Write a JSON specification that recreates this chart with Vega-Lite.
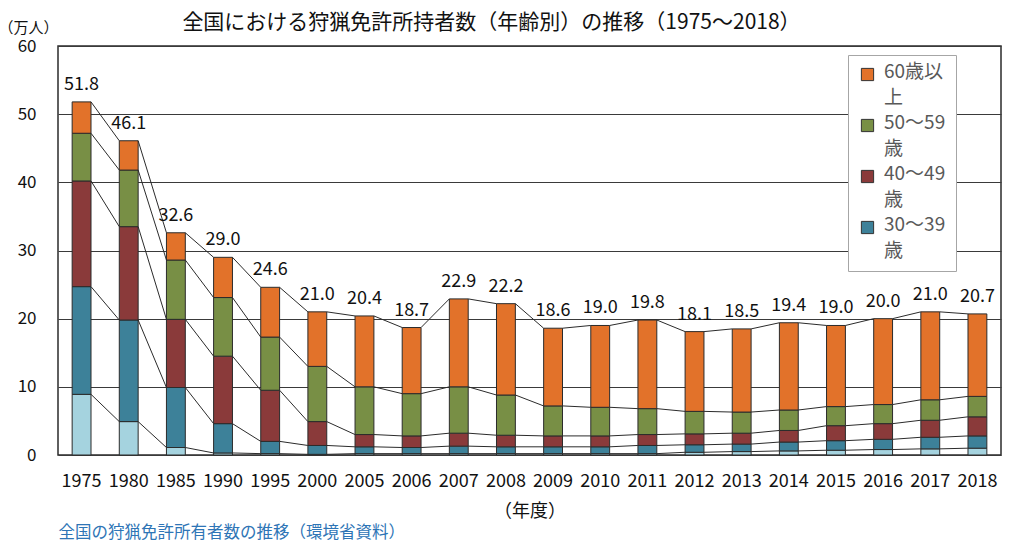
{
  "$schema": "https://vega.github.io/schema/vega-lite/v6.json",
  "autosize": {"type": "none"},
  "padding": {"left": 58, "top": 46, "right": 23, "bottom": 101},
  "width": 943,
  "height": 409,
  "background": "white",
  "title": {
    "text": "全国における狩猟免許所持者数（年齢別）の推移（1975〜2018）",
    "fontSize": 21,
    "fontWeight": "normal",
    "color": "#111111",
    "anchor": "middle",
    "frame": "group",
    "dx": -38,
    "offset": -13
  },
  "datasets": {
    "hunters": [
      {"year": "1975", "age": "20〜29歳", "value": 8.9},
      {"year": "1975", "age": "30〜39歳", "value": 15.8},
      {"year": "1975", "age": "40〜49歳", "value": 15.5},
      {"year": "1975", "age": "50〜59歳", "value": 7.0},
      {"year": "1975", "age": "60歳以上", "value": 4.6},
      {"year": "1980", "age": "20〜29歳", "value": 4.9},
      {"year": "1980", "age": "30〜39歳", "value": 14.9},
      {"year": "1980", "age": "40〜49歳", "value": 13.7},
      {"year": "1980", "age": "50〜59歳", "value": 8.3},
      {"year": "1980", "age": "60歳以上", "value": 4.3},
      {"year": "1985", "age": "20〜29歳", "value": 1.1},
      {"year": "1985", "age": "30〜39歳", "value": 8.8},
      {"year": "1985", "age": "40〜49歳", "value": 10.0},
      {"year": "1985", "age": "50〜59歳", "value": 8.7},
      {"year": "1985", "age": "60歳以上", "value": 4.0},
      {"year": "1990", "age": "20〜29歳", "value": 0.3},
      {"year": "1990", "age": "30〜39歳", "value": 4.3},
      {"year": "1990", "age": "40〜49歳", "value": 9.9},
      {"year": "1990", "age": "50〜59歳", "value": 8.6},
      {"year": "1990", "age": "60歳以上", "value": 5.9},
      {"year": "1995", "age": "20〜29歳", "value": 0.2},
      {"year": "1995", "age": "30〜39歳", "value": 1.8},
      {"year": "1995", "age": "40〜49歳", "value": 7.5},
      {"year": "1995", "age": "50〜59歳", "value": 7.8},
      {"year": "1995", "age": "60歳以上", "value": 7.3},
      {"year": "2000", "age": "20〜29歳", "value": 0.1},
      {"year": "2000", "age": "30〜39歳", "value": 1.3},
      {"year": "2000", "age": "40〜49歳", "value": 3.5},
      {"year": "2000", "age": "50〜59歳", "value": 8.1},
      {"year": "2000", "age": "60歳以上", "value": 8.0},
      {"year": "2005", "age": "20〜29歳", "value": 0.2},
      {"year": "2005", "age": "30〜39歳", "value": 1.0},
      {"year": "2005", "age": "40〜49歳", "value": 1.8},
      {"year": "2005", "age": "50〜59歳", "value": 7.0},
      {"year": "2005", "age": "60歳以上", "value": 10.4},
      {"year": "2006", "age": "20〜29歳", "value": 0.2},
      {"year": "2006", "age": "30〜39歳", "value": 0.9},
      {"year": "2006", "age": "40〜49歳", "value": 1.7},
      {"year": "2006", "age": "50〜59歳", "value": 6.2},
      {"year": "2006", "age": "60歳以上", "value": 9.7},
      {"year": "2007", "age": "20〜29歳", "value": 0.2},
      {"year": "2007", "age": "30〜39歳", "value": 1.1},
      {"year": "2007", "age": "40〜49歳", "value": 1.9},
      {"year": "2007", "age": "50〜59歳", "value": 6.8},
      {"year": "2007", "age": "60歳以上", "value": 12.9},
      {"year": "2008", "age": "20〜29歳", "value": 0.2},
      {"year": "2008", "age": "30〜39歳", "value": 1.0},
      {"year": "2008", "age": "40〜49歳", "value": 1.7},
      {"year": "2008", "age": "50〜59歳", "value": 5.9},
      {"year": "2008", "age": "60歳以上", "value": 13.4},
      {"year": "2009", "age": "20〜29歳", "value": 0.2},
      {"year": "2009", "age": "30〜39歳", "value": 1.0},
      {"year": "2009", "age": "40〜49歳", "value": 1.6},
      {"year": "2009", "age": "50〜59歳", "value": 4.4},
      {"year": "2009", "age": "60歳以上", "value": 11.4},
      {"year": "2010", "age": "20〜29歳", "value": 0.2},
      {"year": "2010", "age": "30〜39歳", "value": 1.0},
      {"year": "2010", "age": "40〜49歳", "value": 1.6},
      {"year": "2010", "age": "50〜59歳", "value": 4.2},
      {"year": "2010", "age": "60歳以上", "value": 12.0},
      {"year": "2011", "age": "20〜29歳", "value": 0.2},
      {"year": "2011", "age": "30〜39歳", "value": 1.2},
      {"year": "2011", "age": "40〜49歳", "value": 1.6},
      {"year": "2011", "age": "50〜59歳", "value": 3.8},
      {"year": "2011", "age": "60歳以上", "value": 13.0},
      {"year": "2012", "age": "20〜29歳", "value": 0.4},
      {"year": "2012", "age": "30〜39歳", "value": 1.1},
      {"year": "2012", "age": "40〜49歳", "value": 1.6},
      {"year": "2012", "age": "50〜59歳", "value": 3.3},
      {"year": "2012", "age": "60歳以上", "value": 11.7},
      {"year": "2013", "age": "20〜29歳", "value": 0.5},
      {"year": "2013", "age": "30〜39歳", "value": 1.1},
      {"year": "2013", "age": "40〜49歳", "value": 1.6},
      {"year": "2013", "age": "50〜59歳", "value": 3.1},
      {"year": "2013", "age": "60歳以上", "value": 12.2},
      {"year": "2014", "age": "20〜29歳", "value": 0.6},
      {"year": "2014", "age": "30〜39歳", "value": 1.3},
      {"year": "2014", "age": "40〜49歳", "value": 1.7},
      {"year": "2014", "age": "50〜59歳", "value": 3.0},
      {"year": "2014", "age": "60歳以上", "value": 12.8},
      {"year": "2015", "age": "20〜29歳", "value": 0.7},
      {"year": "2015", "age": "30〜39歳", "value": 1.4},
      {"year": "2015", "age": "40〜49歳", "value": 2.2},
      {"year": "2015", "age": "50〜59歳", "value": 2.8},
      {"year": "2015", "age": "60歳以上", "value": 11.9},
      {"year": "2016", "age": "20〜29歳", "value": 0.8},
      {"year": "2016", "age": "30〜39歳", "value": 1.5},
      {"year": "2016", "age": "40〜49歳", "value": 2.3},
      {"year": "2016", "age": "50〜59歳", "value": 2.8},
      {"year": "2016", "age": "60歳以上", "value": 12.6},
      {"year": "2017", "age": "20〜29歳", "value": 0.9},
      {"year": "2017", "age": "30〜39歳", "value": 1.7},
      {"year": "2017", "age": "40〜49歳", "value": 2.5},
      {"year": "2017", "age": "50〜59歳", "value": 3.0},
      {"year": "2017", "age": "60歳以上", "value": 12.9},
      {"year": "2018", "age": "20〜29歳", "value": 1.0},
      {"year": "2018", "age": "30〜39歳", "value": 1.8},
      {"year": "2018", "age": "40〜49歳", "value": 2.8},
      {"year": "2018", "age": "50〜59歳", "value": 3.0},
      {"year": "2018", "age": "60歳以上", "value": 12.1}
    ]
  },
  "data": {"name": "hunters"},
  "layer": [
    {
      "mark": {"type": "bar", "stroke": "#2b2b2b", "strokeWidth": 1},
      "encoding": {
        "x": {
          "field": "year",
          "type": "nominal",
          "scale": {"paddingInner": 0.6, "paddingOuter": 0.3},
          "axis": {
            "orient": "bottom",
            "title": "（年度）",
            "labelAngle": 0,
            "labelFontSize": 18,
            "labelColor": "#111111",
            "labelPadding": 17,
            "ticks": false,
            "domain": false,
            "titleFontSize": 18,
            "titleFontWeight": "normal",
            "titleColor": "#111111",
            "titlePadding": 12
          }
        },
        "y": {
          "field": "value",
          "type": "quantitative",
          "stack": "zero",
          "scale": {"domain": [0, 60], "nice": false},
          "axis": {
            "title": "（万人）",
            "titleAngle": 0,
            "titleX": -30,
            "titleY": -19,
            "titleAlign": "center",
            "titleBaseline": "middle",
            "titleFontSize": 15,
            "titleFontWeight": "normal",
            "titleColor": "#111111",
            "values": [0, 10, 20, 30, 40, 50, 60],
            "labelFontSize": 17,
            "labelColor": "#111111",
            "labelPadding": 22,
            "ticks": false,
            "domain": false,
            "grid": true,
            "gridColor": "#3a3a3a",
            "gridWidth": 1
          }
        },
        "color": {
          "field": "age",
          "type": "nominal",
          "scale": {
            "domain": ["60歳以上", "50〜59歳", "40〜49歳", "30〜39歳", "20〜29歳"],
            "range": ["#E2722A", "#788F45", "#8A3A3A", "#3D8199", "#A5D3DF"]
          },
          "legend": {
            "values": ["60歳以上", "50〜59歳", "40〜49歳", "30〜39歳"],
            "orient": "none",
            "legendX": 790,
            "legendY": 9,
            "title": null,
            "fillColor": "white",
            "strokeColor": "#a6a6a6",
            "padding": 10,
            "symbolType": "square",
            "symbolSize": 150,
            "symbolStrokeColor": "#333333",
            "symbolStrokeWidth": 1,
            "labelFontSize": 19,
            "labelColor": "#595959",
            "labelBaseline": "top",
            "labelOffset": 7,
            "rowPadding": 5,
            "labelExpr": "datum.label == '60歳以上' ? ['60歳以', '上'] : [slice(datum.label, 0, 5), '歳']",
            "encode": {"labels": {"update": {"lineHeight": {"value": 26}, "dy": {"value": -12}}}}
          }
        },
        "order": {"field": "age", "sort": "ascending"}
      }
    },
    {
      "transform": [
        {"stack": "value", "groupby": ["year"], "sort": [{"field": "age", "order": "ascending"}], "as": ["v0", "v1"]},
        {"window": [{"op": "lead", "field": "v1", "as": "v1next"}, {"op": "lead", "field": "year", "as": "yearnext"}], "groupby": ["age"], "sort": [{"field": "year", "order": "ascending"}]},
        {"filter": "isValid(datum.yearnext)"}
      ],
      "mark": {"type": "rule", "color": "#2b2b2b", "strokeWidth": 1},
      "encoding": {
        "x": {
          "field": "year",
          "type": "nominal",
          "bandPosition": 1,
          "axis": {
            "orient": "bottom",
            "title": "全国の狩猟免許所有者数の推移（環境省資料）",
            "labels": false,
            "ticks": false,
            "domain": false,
            "grid": false,
            "titleX": 0,
            "titleY": 77,
            "titleAnchor": "start",
            "titleAlign": "left",
            "titleBaseline": "middle",
            "titleFontSize": 16.5,
            "titleFontWeight": "normal",
            "titleColor": "#2E75B6"
          }
        },
        "x2": {"field": "yearnext", "bandPosition": 0},
        "y": {"field": "v1", "type": "quantitative"},
        "y2": {"field": "v1next"}
      }
    },
    {
      "transform": [
        {"aggregate": [{"op": "sum", "field": "value", "as": "total"}], "groupby": ["year"]}
      ],
      "mark": {"type": "text", "dy": -12, "baseline": "alphabetic", "fontSize": 18, "color": "#111111"},
      "encoding": {
        "x": {"field": "year", "type": "nominal", "axis": null},
        "y": {"field": "total", "type": "quantitative"},
        "text": {"field": "total", "type": "quantitative", "format": ".1f"}
      }
    }
  ],
  "resolve": {"axis": {"x": "independent"}},
  "config": {
    "font": "Noto Sans CJK JP",
    "style": {"guide-label": {"lineHeight": 26}},
    "view": {"stroke": "#2b2b2b", "strokeWidth": 1.5}
  }
}
